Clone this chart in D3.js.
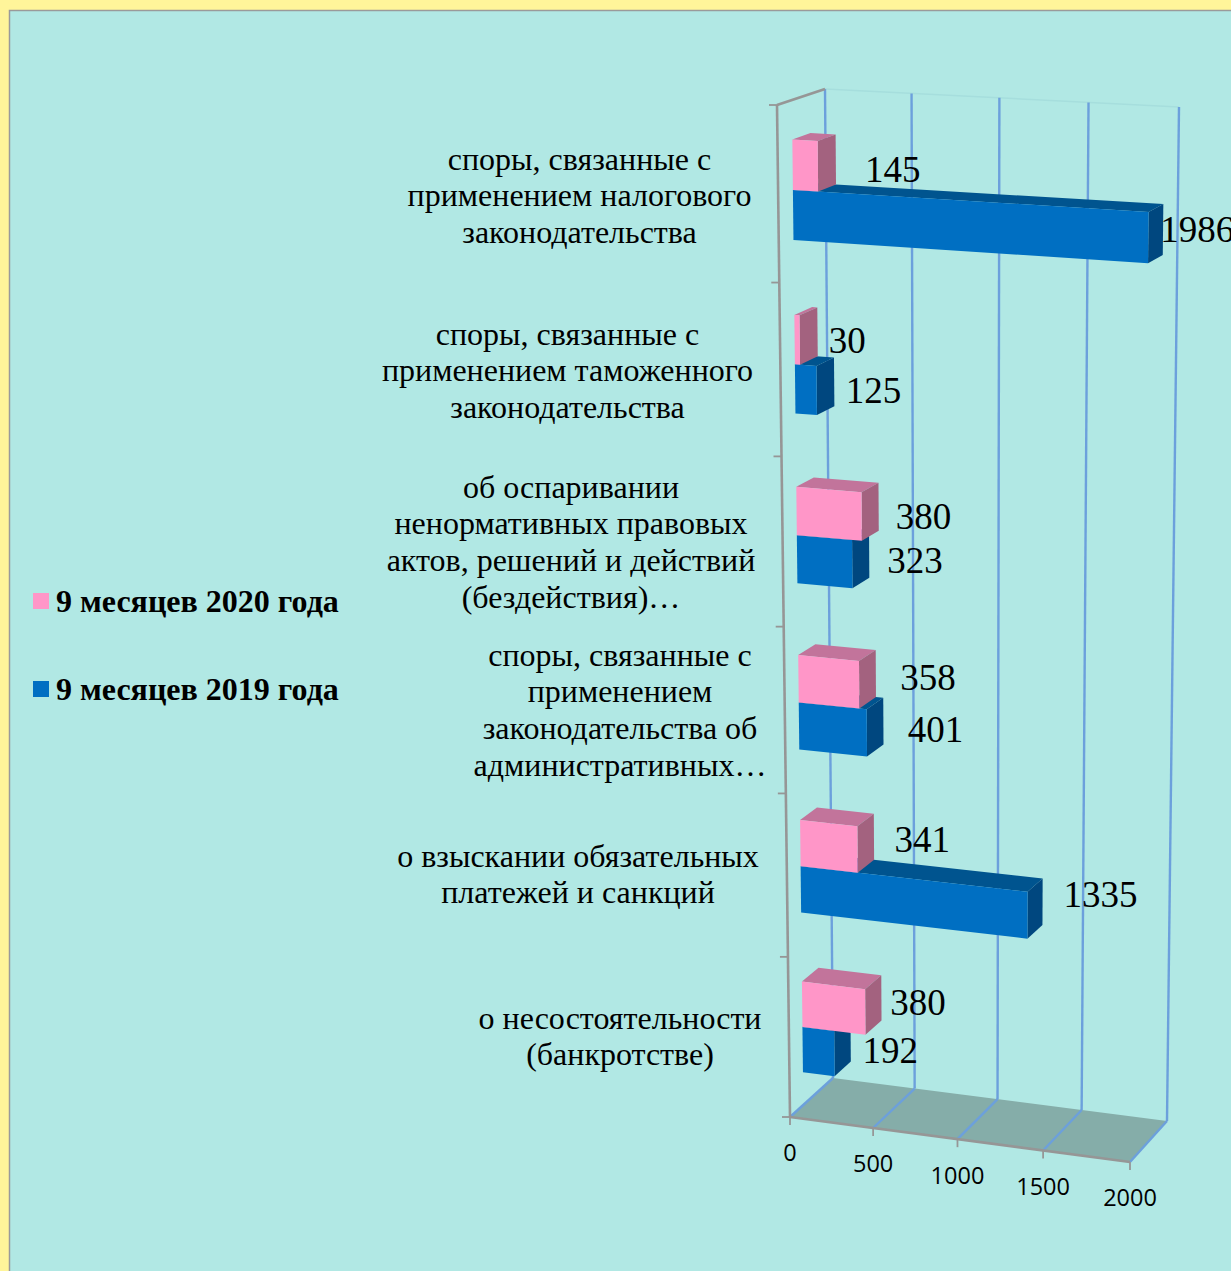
<!DOCTYPE html>
<html>
<head>
<meta charset="utf-8">
<script src="https://cdn.jsdelivr.net/npm/d3@7"></script>
<style>
  html, body { margin: 0; padding: 0; background: #fff59a; }
  svg { display: block; }
</style>
</head>
<body>
<div id="chart"></div>
<script>
// chart values, top category first
const categories = [
  "споры, связанные с применением налогового законодательства",
  "споры, связанные с применением таможенного законодательства",
  "об оспаривании ненормативных правовых актов, решений и действий (бездействия)…",
  "споры, связанные с применением законодательства об административных…",
  "о взыскании обязательных платежей и санкций",
  "о несостоятельности (банкротстве)"
];
const seriesNames = ["9 месяцев 2020 года", "9 месяцев 2019 года"];
const values2020 = [145, 30, 380, 358, 341, 380];
const values2019 = [1986, 125, 323, 401, 1335, 192];
const valueTicks = [0, 500, 1000, 1500, 2000];

// how the category labels wrap
const categoryLines = [
  ["споры, связанные с", "применением налогового", "законодательства"],
  ["споры, связанные с", "применением таможенного", "законодательства"],
  ["об оспаривании", "ненормативных правовых", "актов, решений и действий", "(бездействия)…"],
  ["споры, связанные с", "применением", "законодательства об", "административных…"],
  ["о взыскании обязательных", "платежей и санкций"],
  ["о несостоятельности", "(банкротстве)"]
];

// label layout
const labelCenterX = [579.5, 567.5, 571, 620, 578, 620];
const labelFirstLineY = [160, 335, 488, 656, 857, 1019];
const nudge2020 = [[47, 3], [29, 1], [34, 0], [41, -7], [37, -10], [25, -9]];
const nudge2019 = [[12, -8], [29, 0], [35, -3], [41, -3], [36, -21], [28, -3]];

const width = 1231, height = 1271;

const colors = {
  page: "#fff59a", panel: "#b1e8e4", border: "#9a9a9a",
  grid: "#6ca0dc", axis: "#969696", floor: "#85ada9", faint: "#a6dedd",
  front: ["#ff96c8", "#006fc2"],
  top: ["#c2749b", "#00548f"],
  side: ["#a3627f", "#00477f"]
};

// corners of the 3d box as they land on the page
const box = {
  front: { tl: [777, 105], tr: [1140, 126], bl: [790, 1117], br: [1130, 1162] },
  back: { tl: [825, 89], tr: [1179, 107], bl: [833, 1078], br: [1167, 1121] }
};
const barDepth = [0.31, 0.69];
const barShift = 0.0012;

const lerp = (a, b, t) => [a[0] + (b[0] - a[0]) * t, a[1] + (b[1] - a[1]) * t];
// foreshortening along an edge
const persp = (t, k) => t / (t + (1 - t) * k);

const valueScale = d3.scaleLinear().domain([0, 2000]).range([0, 1]);
const categoryScale = d3.scaleBand().domain(d3.range(categories.length)).range([0, 1])
  .paddingInner(0.43).paddingOuter(0.215);
const seriesScale = d3.scaleBand().domain(d3.range(seriesNames.length)).range([0, categoryScale.bandwidth()]);

function project(u, v, d) {
  const pu = persp(u, 1.03), pv = persp(v, 0.94);
  const plane = (p) => lerp(lerp(p.tl, p.tr, pu), lerp(p.bl, p.br, pu), pv);
  return lerp(plane(box.front), plane(box.back), d);
}

const svg = d3.select("#chart").append("svg").attr("width", width).attr("height", height);
const pathOf = (pts) => "M" + pts.map((p) => p.join(",")).join("L") + "Z";
const lineOf = (g, a, b, stroke, w) => g.append("line")
  .attr("x1", a[0]).attr("y1", a[1]).attr("x2", b[0]).attr("y2", b[1])
  .attr("stroke", stroke).attr("stroke-width", w);

// panel
svg.append("rect").attr("width", width).attr("height", height).attr("fill", colors.page);
svg.append("rect").attr("x", 9.5).attr("y", 10.5).attr("width", width + 20).attr("height", height + 20)
  .attr("fill", colors.panel).attr("stroke", colors.border).attr("stroke-width", 1.5);

// floor and walls
const walls = svg.append("g");
walls.append("path").attr("fill", colors.floor)
  .attr("d", pathOf([project(0, 1, 0), project(1, 1, 0), project(1, 1, 1), project(0, 1, 1)]));
lineOf(walls, project(0, 0, 1), project(1, 0, 1), colors.faint, 1.5);
valueTicks.forEach((t) => {
  const u = valueScale(t);
  lineOf(walls, project(u, 0, 1), project(u, 1, 1), colors.grid, 2.4);
  lineOf(walls, project(u, 1, 1), project(u, 1, 0), colors.grid, 2.4);
});

// axes
const axes = svg.append("g");
lineOf(axes, project(0, 0, 0), project(0, 1, 0), colors.axis, 2.6);
lineOf(axes, project(0, 0, 0), project(0, 0, 1), colors.axis, 2.6);
lineOf(axes, project(0, 1, 0), project(1, 1, 0), colors.axis, 2.6);
d3.range(categories.length + 1).forEach((i) => {
  const p = project(0, i / categories.length, 0);
  lineOf(axes, [p[0] - 8, p[1]], p, colors.axis, 1.8);
});
valueTicks.forEach((t) => {
  const p = project(valueScale(t), 1, 0);
  lineOf(axes, p, [p[0], p[1] + 8], colors.axis, 1.8);
  axes.append("text").attr("x", p[0]).attr("y", p[1] + 36).attr("dy", "0.36em")
    .attr("text-anchor", "middle").attr("font-family", "'Open Sans'").attr("font-size", 23.5)
    .attr("fill", "#000").text(t);
});

// bars, 2019 goes under 2020 so the pink box sits on the blue one
const seriesValues = [values2020, values2019];
const labels = [];
categories.forEach((c, i) => {
  [1, 0].forEach((s) => {
    const value = seriesValues[s][i];
    const u = valueScale(value);
    const v0 = categoryScale(i) + seriesScale(s) + barShift;
    const v1 = v0 + seriesScale.bandwidth();
    const [d0, d1] = barDepth;
    const g = svg.append("g");
    g.append("path").attr("fill", colors.top[s])
      .attr("d", pathOf([project(0, v0, d0), project(u, v0, d0), project(u, v0, d1), project(0, v0, d1)]));
    g.append("path").attr("fill", colors.side[s])
      .attr("d", pathOf([project(u, v0, d0), project(u, v1, d0), project(u, v1, d1), project(u, v0, d1)]));
    g.append("path").attr("fill", colors.front[s])
      .attr("d", pathOf([project(0, v0, d0), project(u, v0, d0), project(u, v1, d0), project(0, v1, d0)]));
    const end = project(u, (v0 + v1) / 2, d0);
    const n = (s === 0 ? nudge2020 : nudge2019)[i];
    labels.push({ x: end[0] + n[0], y: end[1] + n[1], text: value });
  });
});

// data labels
svg.append("g").selectAll("text").data(labels).join("text")
  .attr("x", (d) => d.x).attr("y", (d) => d.y).attr("dy", "0.33em")
  .attr("font-family", "'Liberation Serif'").attr("font-size", 37).attr("fill", "#000")
  .text((d) => d.text);

// category labels
categoryLines.forEach((lines, i) => {
  const t = svg.append("text").attr("text-anchor", "middle")
    .attr("font-family", "'Liberation Serif'").attr("font-size", 32).attr("fill", "#000");
  lines.forEach((line, j) => {
    t.append("tspan").attr("x", labelCenterX[i]).attr("y", labelFirstLineY[i] + j * 36.7)
      .attr("dy", "0.3em").text(line);
  });
});

// legend
seriesNames.forEach((name, s) => {
  const y = 601 + s * 88;
  svg.append("rect").attr("x", 33).attr("y", y - 8).attr("width", 16).attr("height", 16).attr("fill", colors.front[s]);
  svg.append("text").attr("x", 56).attr("y", y).attr("dy", "0.33em")
    .attr("font-family", "'Liberation Serif'").attr("font-weight", "bold").attr("font-size", 32)
    .attr("fill", "#000").text(name);
});
</script>
</body>
</html>
